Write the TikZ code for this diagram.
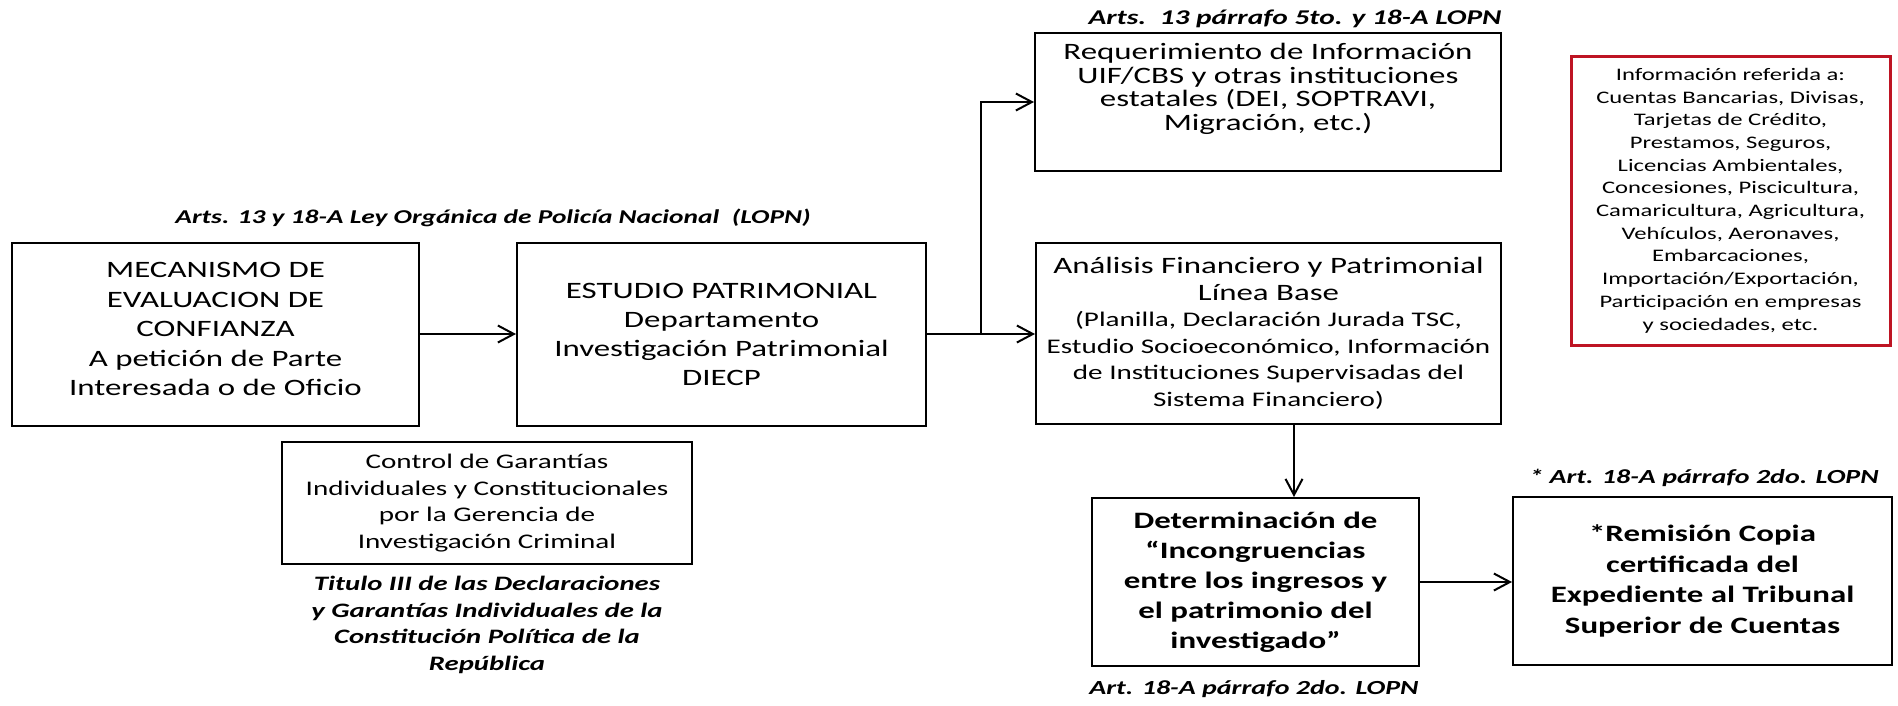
\documentclass[tikz,border=0pt]{standalone}
\usepackage{fontspec}
\setmainfont{Carlito}[FakeStretch=1.4]
\usetikzlibrary{arrows.meta}
\definecolor{boxred}{RGB}{190,20,35}
\tikzset{
  box/.style={draw=black, line width=2pt, align=center, inner sep=0pt},
  txt/.style={align=center, inner sep=0pt},
  redbox/.style={draw=boxred, line width=3pt, align=center, inner sep=0pt},
  lbl/.style={align=center, inner sep=0pt, font=\bfseries\itshape\fontsize{20}{26.5}\selectfont},
  arr/.style={line width=2pt, -{Straight Barb[length=16pt,width=17pt]}}
}
\begin{document}
\begin{tikzpicture}[x=1pt,y=-1pt]
\useasboundingbox (0,0) rectangle (1898,705);
% boxes
\node[box, minimum width=407pt, minimum height=183pt] (A) at (215.5,334) {};
\node[txt, font=\fontsize{23.5}{29.5}\selectfont] (AT) at (215.5,329) {MECANISMO DE\\EVALUACION DE\\CONFIANZA\\A petición de Parte\\Interesada o de Oficio};
\node[box, minimum width=409pt, minimum height=183pt, font=\fontsize{23.5}{29}\selectfont] (B) at (721.5,334) {ESTUDIO PATRIMONIAL\\Departamento\\Investigación Patrimonial\\DIECP};
\node[box, minimum width=466pt, minimum height=138pt] (Req) at (1268,102) {};
\node[txt, font=\fontsize{23.5}{23.5}\selectfont] (ReqT) at (1268,89) {Requerimiento de Información\\UIF/CBS y otras instituciones\\estatales (DEI, SOPTRAVI,\\Migración, etc.)};
\node[box, minimum width=465pt, minimum height=181pt, font=\fontsize{23.5}{26.5}\selectfont] (Ana) at (1268.5,333.5) {Análisis Financiero y Patrimonial\\Línea Base\\\fontsize{20.8}{26.5}\selectfont (Planilla, Declaración Jurada TSC,\\\fontsize{20.8}{26.5}\selectfont Estudio Socioeconómico, Información\\\fontsize{20.8}{26.5}\selectfont de Instituciones Supervisadas del\\\fontsize{20.8}{26.5}\selectfont Sistema Financiero)};
\node[redbox, minimum width=319pt, minimum height=289pt, font=\fontsize{17.6}{22.7}\selectfont] (Red) at (1730.5,200.5) {Información referida a:\\Cuentas Bancarias, Divisas,\\Tarjetas de Crédito,\\Prestamos, Seguros,\\Licencias Ambientales,\\Concesiones, Piscicultura,\\Camaricultura, Agricultura,\\Vehículos, Aeronaves,\\Embarcaciones,\\Importación/Exportación,\\Participación en empresas\\y sociedades, etc.};
\node[box, minimum width=410pt, minimum height=122pt, font=\fontsize{20.8}{26.7}\selectfont] (Ctrl) at (487,503) {Control de Garantías\\Individuales y Constitucionales\\por la Gerencia de\\Investigación Criminal};
\node[box, minimum width=327pt, minimum height=168pt, font=\bfseries\fontsize{23.5}{30}\selectfont] (Det) at (1255.5,582) {Determinación de\\“Incongruencias\\entre los ingresos y\\el patrimonio del\\investigado”};
\node[box, minimum width=379pt, minimum height=168pt, font=\bfseries\fontsize{23.5}{30.5}\selectfont] (Rem) at (1702.5,581) {*Remisión Copia\\certificada del\\Expediente al Tribunal\\Superior de Cuentas};
% labels
\node[lbl, font=\bfseries\itshape\fontsize{19.6}{26.5}\selectfont] (L1) at (493,218) {Arts. 13 y 18-A Ley Orgánica de Policía Nacional\ \ (LOPN)};
\node[lbl, font=\bfseries\itshape\fontsize{21}{26.5}\selectfont] (L2) at (1295,19) {Arts.\ \ 13 párrafo 5to. y 18-A LOPN};
\node[lbl, font=\bfseries\itshape\fontsize{20.5}{26.5}\selectfont] (L3) at (487,625) {Titulo III de las Declaraciones\\y Garantías Individuales de la\\Constitución Política de la\\República};
\node[lbl] (L4) at (1254,689) {Art. 18-A párrafo 2do. LOPN};
\node[lbl] (L5) at (1704,478) {* Art. 18-A párrafo 2do. LOPN};
% connectors
\coordinate (J) at (981,334);
\coordinate (ax) at (1294,0);
\draw[arr] (A.east) -- (B.west);
\draw[arr] (B.east) -- (B.east -| Ana.west);
\draw[arr] (J) |- (Req.west);
\draw[arr] (Ana.south -| ax) -- (Det.north -| ax);
\draw[arr] (Det.east) -- (Det.east -| Rem.west);
\end{tikzpicture}
\end{document}
